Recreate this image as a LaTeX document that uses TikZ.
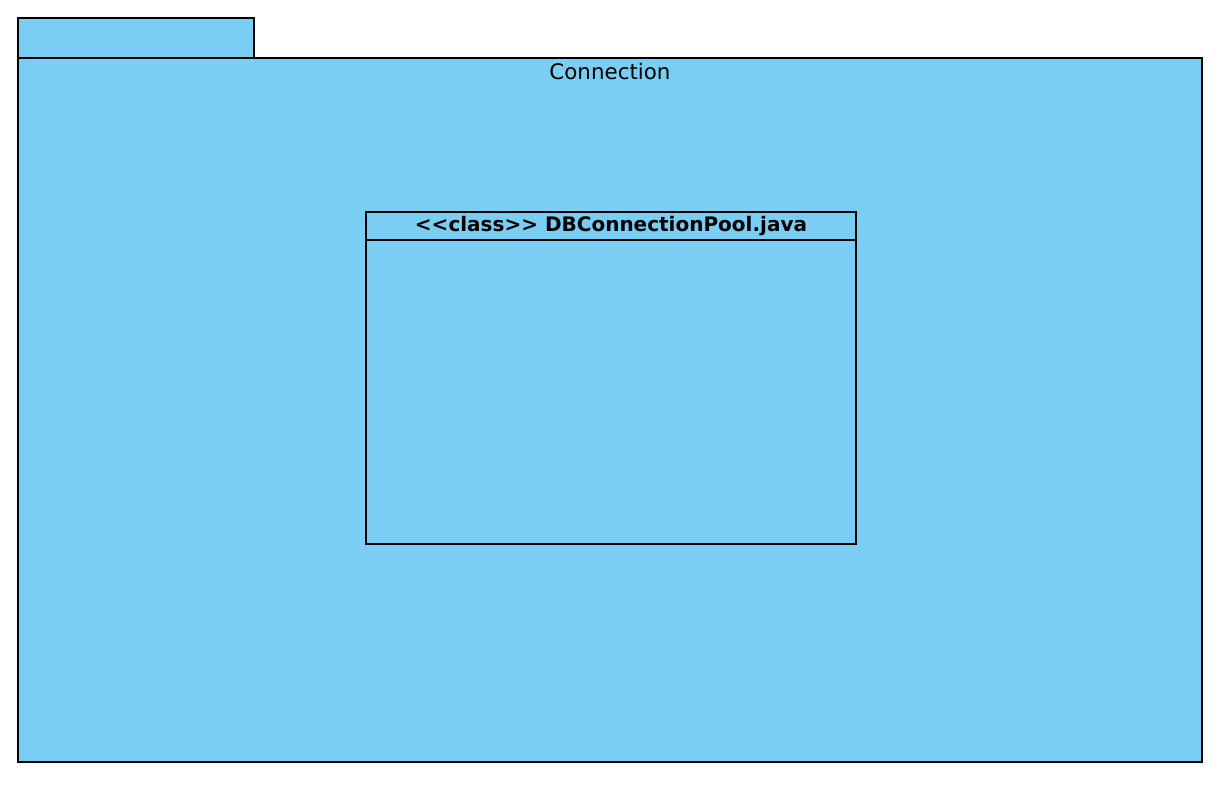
\documentclass[tikz,border=0pt]{standalone}
\usepackage{fontspec}
\setmainfont[Ligatures=NoCommon]{DejaVu Sans}
\definecolor{pkgblue}{HTML}{7ACEF4}
\begin{document}
\begin{tikzpicture}[x=0.5pt,y=-0.5pt]
		\newcommand{\mypkgfont}[1]{
			\fontsize{10.7}{12}\selectfont{#1}
		}\newcommand{\myclassfont}[1]{
			\fontsize{10}{12}\selectfont{\bfseries #1}
		}%Bounding box of the whole page
		\useasboundingbox (0,0) rectangle (1222,790);
		\tikzset{umlbox/.style={draw=black,fill=pkgblue,line width=1pt}}
		%Tab of the package
		\coordinate (tabTL) at (18,18);
		\coordinate (tabBR) at (254,58);
		\draw [umlbox] (tabTL) rectangle (tabBR);
		%Body of the package
		\coordinate (pkgTL) at (18,58);
		\coordinate (pkgBR) at (1202,762);
		\draw [umlbox] (pkgTL) rectangle (pkgBR);
		\coordinate (pkgName) at (610,72);
		\node [inner sep=0pt] (connection) at (pkgName) {\mypkgfont{Connection}};
		%The class
		\coordinate (classTL) at (366,212);
		\coordinate (classBR) at (856,544);
		\coordinate (headL) at (366,240);
		\coordinate (headR) at (856,240);
		\draw [umlbox] (classTL) rectangle (classBR);
		\draw [line width=1pt] (headL) -- (headR);
		\coordinate (className) at (611,226);
		\node [inner sep=0pt] (dbpool) at (className) {\myclassfont{{<}{<}class{>}{>} DBConnectionPool.java}};
\end{tikzpicture}
\end{document}
